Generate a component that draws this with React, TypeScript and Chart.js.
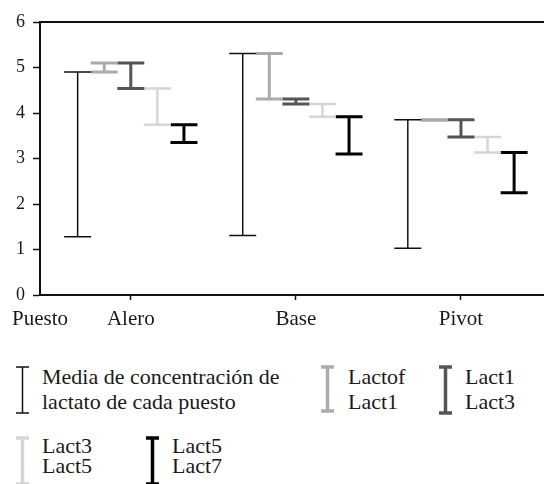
import React, { useEffect, useRef } from "react";
import { Chart, registerables } from "chart.js";

Chart.register(...registerables);

const categories = ["Alero", "Base", "Pivot"];
const axisTitle = "Puesto";
const yMin = 0;
const yMax = 6;

const mediaLow = [1.28, 1.31, 1.03];
const mediaHigh = [4.9, 5.31, 3.85];
const lactofLact1Low = [4.9, 4.31, 3.84];
const lactofLact1High = [5.1, 5.31, 3.85];
const lact1Lact3Low = [4.54, 4.2, 3.47];
const lact1Lact3High = [5.1, 4.31, 3.85];
const lact3Lact5Low = [3.74, 3.92, 3.13];
const lact3Lact5High = [4.54, 4.2, 3.47];
const lact5Lact7Low = [3.35, 3.1, 2.25];
const lact5Lact7High = [3.74, 3.92, 3.13];

const FONT = "'Liberation Serif', 'Times New Roman', serif";
const TEXT = "#1a1a1a";

const series = [
  { label: ["Media de concentración de", "lactato de cada puesto"], low: mediaLow, high: mediaHigh, color: "#111111", width: 1.5 },
  { label: ["Lactof", "Lact1"], low: lactofLact1Low, high: lactofLact1High, color: "#ababab", width: 3 },
  { label: ["Lact1", "Lact3"], low: lact1Lact3Low, high: lact1Lact3High, color: "#555555", width: 3 },
  { label: ["Lact3", "Lact5"], low: lact3Lact5Low, high: lact3Lact5High, color: "#d6d6d6", width: 2.5 },
  { label: ["Lact5", "Lact7"], low: lact5Lact7Low, high: lact5Lact7High, color: "#000000", width: 3 },
];

const legendLayout = [
  { x: 22, top: 367, bottom: 413, textX: 42, textTop: 364, lh: 25 },
  { x: 327, top: 367, bottom: 411, textX: 348, textTop: 364, lh: 25 },
  { x: 445, top: 367, bottom: 413, textX: 465, textTop: 364, lh: 25 },
  { x: 22, top: 438, bottom: 484, textX: 42, textTop: 436, lh: 20 },
  { x: 152, top: 438, bottom: 484, textX: 172, textTop: 436, lh: 20 },
];

function LegendSymbol({ x, top, bottom, color, width }: any) {
  const capW = 13;
  const h = bottom - top;
  return (
    <svg
      style={{ position: "absolute", left: x - capW / 2 - 2, top: top - 2 }}
      width={capW + 4}
      height={h + 4}
    >
      <line x1={capW / 2 + 2} y1={2} x2={capW / 2 + 2} y2={h + 2} stroke={color} strokeWidth={width} />
      <line x1={2} y1={2} x2={capW + 2} y2={2} stroke={color} strokeWidth={width} />
      <line x1={2} y1={h + 2} x2={capW + 2} y2={h + 2} stroke={color} strokeWidth={width} />
    </svg>
  );
}

export default function App() {
  const ref = useRef<HTMLCanvasElement | null>(null);

  useEffect(() => {
    if (!ref.current) return;
    const step = 0.161;
    const datasets = series.map((s, si) => {
      const off = (si - 2) * step;
      const data: any[] = [];
      categories.forEach((_, i) => {
        data.push({ x: i + off, y: s.low[i] });
        data.push({ x: i + off, y: s.high[i] });
        data.push({ x: i + off, y: null });
      });
      return {
        label: s.label.join(" "),
        data,
        borderColor: s.color,
        borderWidth: s.width,
        pointStyle: "line",
        pointRadius: 13.5,
        pointHoverRadius: 13.5,
        pointBorderColor: s.color,
        pointBorderWidth: s.width,
        pointBackgroundColor: s.color,
        spanGaps: false,
        fill: false,
        tension: 0,
      };
    });

    const chart = new Chart(ref.current, {
      type: "line",
      data: { datasets } as any,
      options: {
        animation: false,
        responsive: false,
        events: [],
        layout: { padding: 0 },
        plugins: { legend: { display: false }, tooltip: { enabled: false } },
        scales: {
          x: {
            type: "linear",
            position: "bottom",
            min: -0.55,
            max: 2.5,
            afterBuildTicks: (axis: any) => {
              axis.ticks = [-0.55, 0, 1, 2].map((v) => ({ value: v }));
            },
            afterFit: (axis: any) => {
              axis.height = 45;
            },
            ticks: {
              autoSkip: false,
              maxRotation: 0,
              padding: 7,
              color: TEXT,
              font: { family: FONT, size: 21 },
              callback: (v: any) => (v < 0 ? axisTitle : categories[v]),
            },
            grid: {
              drawOnChartArea: false,
              drawTicks: true,
              tickLength: 5,
              tickWidth: 1.5,
              tickColor: (ctx: any) => (ctx.tick && ctx.tick.value < 0 ? "rgba(0,0,0,0)" : "#111"),
            },
            border: { display: true, color: "#111", width: 2 },
          },
          xTop: {
            type: "linear",
            position: "top",
            min: 0,
            max: 1,
            afterFit: (axis: any) => {
              axis.height = 22;
            },
            ticks: { display: false },
            grid: { display: false, drawTicks: false },
            border: { display: true, color: "#111", width: 2 },
          },
          y: {
            type: "linear",
            min: yMin,
            max: yMax,
            afterFit: (axis: any) => {
              axis.width = 40;
            },
            ticks: {
              stepSize: 1,
              padding: 8,
              color: TEXT,
              font: { family: FONT, size: 18 },
            },
            grid: {
              drawOnChartArea: false,
              drawTicks: true,
              tickLength: 7,
              tickWidth: 1.5,
              tickColor: "#111",
            },
            border: { display: true, color: "#111", width: 2 },
          },
        },
      } as any,
    });
    return () => chart.destroy();
  }, []);

  return (
    <div style={{ position: "absolute", left: 0, top: 0, width: 560, height: 484, background: "#fff", overflow: "hidden" }}>
      <canvas ref={ref} width={560} height={340} style={{ position: "absolute", left: 0, top: 0, width: 560, height: 340 }} />
      {series.map((s, i) => {
        const L = legendLayout[i];
        return (
          <React.Fragment key={i}>
            <LegendSymbol x={L.x} top={L.top} bottom={L.bottom} color={s.color} width={i === 0 ? 1.5 : 3.5} />
            <div
              style={{
                position: "absolute",
                left: L.textX,
                top: L.textTop,
                fontFamily: FONT,
                fontSize: 22,
                lineHeight: L.lh + "px",
                color: TEXT,
                whiteSpace: "nowrap",
              }}
            >
              {s.label.map((t, j) => (
                <div key={j}>{t}</div>
              ))}
            </div>
          </React.Fragment>
        );
      })}
    </div>
  );
}
